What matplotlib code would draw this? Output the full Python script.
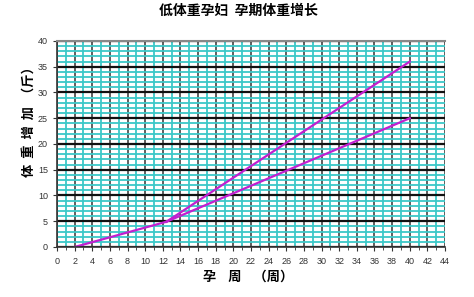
import matplotlib
matplotlib.use('Agg')
import matplotlib.pyplot as plt
from matplotlib.ticker import MultipleLocator

plt.rcParams['font.family'] = ['Noto Sans CJK SC', 'DejaVu Sans']

# data
weeks_early = [2, 12.4]
gain_early = [0, 4.9]
weeks_late = [12.4, 40]
gain_high = [4.9, 36]
gain_low = [4.9, 25]

title = '低体重孕妇  孕期体重增长'
xlabel = '孕    周    （周）'
ylabel = '体  重  增  加  （斤）'

LINE_COLOR = '#C21FD0'
CYAN = '#3CC8C8'

fig = plt.figure(figsize=(4.74, 2.97), dpi=100)
ax = fig.add_axes([0.1203, 0.1684, 0.8186, 0.6936])

ax.set_xlim(0, 44)
ax.set_ylim(0, 40)
ax.xaxis.set_major_locator(MultipleLocator(2))
ax.xaxis.set_minor_locator(MultipleLocator(1))
ax.yaxis.set_major_locator(MultipleLocator(5))
ax.yaxis.set_minor_locator(MultipleLocator(1))

ax.grid(which='minor', color=CYAN, linewidth=1.3)
ax.grid(which='major', axis='x', color='#333333', linewidth=1.1)
ax.grid(which='major', axis='y', color='#111111', linewidth=1.6)
ax.set_axisbelow(True)

ax.plot(weeks_early, gain_early, color=LINE_COLOR, linewidth=1.6)
ax.plot(weeks_late, gain_high, color=LINE_COLOR, linewidth=1.6)
ax.plot(weeks_late, gain_low, color=LINE_COLOR, linewidth=1.6)

for s in ['left', 'bottom']:
    ax.spines[s].set_color('#333333')
    ax.spines[s].set_linewidth(1.2)
ax.spines['top'].set_color('#888888')
ax.spines['top'].set_linewidth(1.5)
ax.spines['right'].set_visible(False)

ax.tick_params(which='both', direction='out', color='#333333', labelsize=6.5,
               labelcolor='#333333')
ax.tick_params(which='major', length=3)
ax.tick_params(which='minor', length=2)
ax.tick_params(axis='y', which='minor', length=0)
for lbl in ax.get_xticklabels() + ax.get_yticklabels():
    lbl.set_family('Liberation Sans')
ax.tick_params(axis='x', pad=4)

fig.text(0.503, 0.962, title, ha='center', va='center', fontsize=10, fontweight='bold')
fig.text(0.523, 0.067, xlabel, ha='center', va='center', fontsize=9.5, fontweight='bold')
fig.text(0.06, 0.60, ylabel, ha='center', va='center', rotation=90,
         fontsize=9.5, fontweight='bold')

fig.savefig('out.png', dpi=100)
